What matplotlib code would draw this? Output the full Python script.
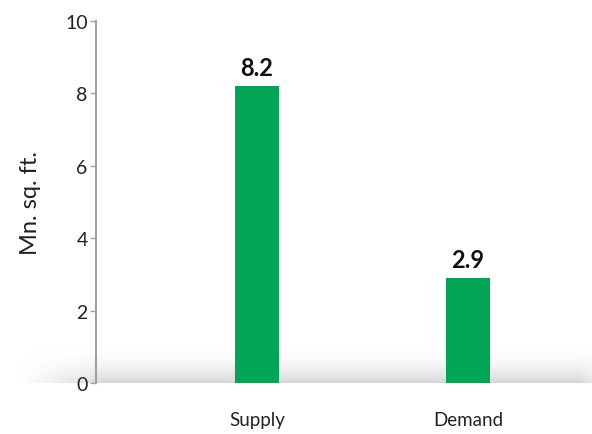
import numpy as np
import matplotlib.pyplot as plt

categories = ['Supply', 'Demand']
values = [8.2, 2.9]
value_labels = ['8.2', '2.9']
yticks = [0, 2, 4, 6, 8, 10]

plt.rcParams['font.family'] = ['Lato', 'DejaVu Sans']

fig = plt.figure(figsize=(5.92, 4.35), dpi=100)

# soft grey shadow band sitting on the baseline
shadow_ax = fig.add_axes([0.03, 0.1172, 0.97, 0.09], zorder=0)
h, w = 60, 400
vert = np.linspace(0, 1, h)[:, None] ** 2.2
xs = np.linspace(0, 1, w)
horiz = np.clip(xs / 0.15, 0, 1) * np.clip((1 - xs) / 0.06 + 0.6, 0, 1)
alpha = vert * horiz[None, :]
rgba = np.zeros((h, w, 4))
rgba[..., :3] = 0.84
rgba[..., 3] = alpha
# row 0 drawn at the top, so the darkest rows end up at the baseline
shadow_ax.imshow(rgba, aspect='auto', extent=[0, 1, 0, 1], origin='upper')
shadow_ax.axis('off')

ax = fig.add_axes([0.1622, 0.1172, 0.8378, 0.8322], zorder=1)
ax.patch.set_alpha(0)

x = np.arange(len(categories))
ax.bar(x, values, width=0.21, color='#00a555', zorder=3)

for xi, v, lab in zip(x, values, value_labels):
    ax.annotate(lab, (xi, v), xytext=(0, 5), textcoords='offset points',
                ha='center', va='bottom', fontsize=17, fontweight='bold', color='#111111')

ax.set_xlim(-0.763, 1.588)
ax.set_ylim(0, 10)
ax.set_yticks(yticks)
ax.set_xticks(x)
ax.set_xticklabels(categories, fontsize=13.5, color='#222222')
ax.tick_params(axis='x', length=0, pad=20)
ax.tick_params(axis='y', length=4, width=1, color='#a0a0a0', labelsize=14,
               labelcolor='#222222', pad=2)

for side in ['top', 'right', 'bottom']:
    ax.spines[side].set_visible(False)
ax.spines['left'].set_color('#a0a0a0')
ax.spines['left'].set_linewidth(1.5)

ax.set_ylabel('Mn. sq. ft.', fontsize=17, color='#222222')
ax.yaxis.set_label_coords(-0.11, 0.5)

fig.savefig('out.png', dpi=100)
